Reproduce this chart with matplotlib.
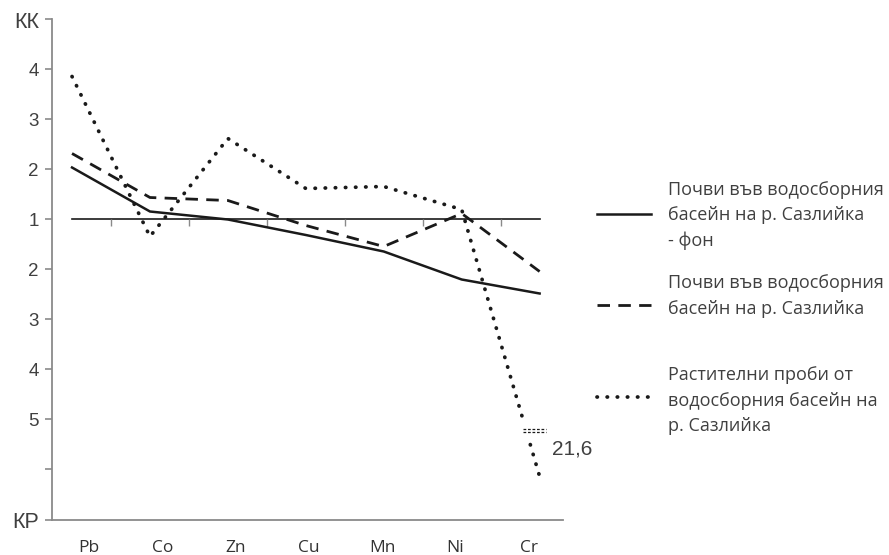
import matplotlib
matplotlib.use("Agg")
import matplotlib.pyplot as plt
from matplotlib.lines import Line2D
from matplotlib.patches import Rectangle

# Heavy metals along the x axis
elements = ["Pb", "Co", "Zn", "Cu", "Mn", "Ni", "Cr"]

# Positive numbers are concentration coefficients (КК),
# negative numbers are dispersion coefficients (КР)
soil_background = [2.04, 1.16, 1.0, -1.31, -1.64, -2.2, -2.48]
soil = [2.32, 1.44, 1.38, -1.12, -1.54, 1.12, -2.04]
plants = [3.86, -1.34, 2.62, 1.62, 1.66, 1.2, -21.6]

series_labels = [
    "Почви във водосборния\nбасейн на р. Сазлийка\n- фон",
    "Почви във водосборния\nбасейн на р. Сазлийка",
    "Растителни проби от\nводосборния басейн на\nр. Сазлийка",
]

y_tick_values = [4, 3, 2, 1, 0, -1, -2, -3, -4, -5, -6]
y_tick_labels = ["КК", "4", "3", "2", "1", "2", "3", "4", "5", "", "КР"]

# The КР scale is broken above this value and compressed beyond it
BREAK_AT = 5.2
BREAK_SCALE = 0.0573


def to_pos(v):
    """Map a signed coefficient onto the two-sided vertical scale."""
    if v >= 0:
        return v - 1
    k = -v
    if k <= BREAK_AT:
        return -(k - 1)
    return -(BREAK_AT - 1) - (k - BREAK_AT) * BREAK_SCALE


W, H = 889, 555
fig = plt.figure(figsize=(W / 100, H / 100), dpi=100)


def fx(px):
    return px / W


def fy(py):
    return 1 - py / H


ax = fig.add_axes([fx(52), fy(519.5), fx(563) - fx(52), fy(19.5) - fy(519.5)])

AXIS_GREY = "#8a8a8a"
TEXT_GREY = "#404040"
INK = "#1a1a1a"

x = list(range(len(elements)))

ax.set_xlim(-0.257, 6.3)
ax.set_ylim(-6, 4)

# reference line at coefficient 1 with category separators hanging below it
ax.plot([0, len(elements) - 1], [0, 0], color=INK, lw=1.2, zorder=2)
ax.vlines([i + 0.5 for i in range(len(elements) - 1)], -0.14, 0,
          color=AXIS_GREY, lw=1.0, zorder=2)

styles = [
    dict(linestyle="-", lw=1.8),
    dict(linestyle=(0, (4.5, 3.0)), lw=2.0),
    dict(linestyle=(0, (0.1, 2.6)), lw=2.7, dash_capstyle="round"),
]
all_series = [soil_background, soil, plants]

for vals, st in zip(all_series, styles):
    ax.plot(x, [to_pos(v) for v in vals], color=INK, zorder=3, **st)

# axis break on the plant series
bp = to_pos(-BREAK_AT)
ax.add_patch(Rectangle((5.65, bp - 0.23), 0.5, 0.4, facecolor="white",
                       edgecolor="none", zorder=4))
for dy in (0.02, -0.06):
    ax.plot([5.79, 6.08], [bp + dy, bp + dy], color=INK, lw=0.9,
            linestyle=(0, (2.2, 1.4)), zorder=5)

# value label for the off-scale point
cr_val = plants[-1]
ax.annotate(f"{abs(cr_val):.1f}".replace(".", ","),
            xy=(x[-1], to_pos(cr_val)), xytext=(9, 20),
            textcoords="offset points", ha="left", va="center",
            fontsize=15, color=TEXT_GREY, family="Liberation Sans")

# spines
for s in ("top", "right"):
    ax.spines[s].set_visible(False)
for s in ("left", "bottom"):
    ax.spines[s].set_color(AXIS_GREY)
    ax.spines[s].set_linewidth(1.3)

ax.set_yticks(y_tick_values)
ax.set_yticklabels(y_tick_labels, fontsize=13.5, color=TEXT_GREY,
                   family="Liberation Sans")
ax.tick_params(axis="y", direction="out", length=5, width=1.2,
               color=AXIS_GREY, pad=4.5)
for lab in ax.get_yticklabels():
    if lab.get_text() in ("КК", "КР"):
        lab.set_fontsize(15.5)

# category labels sit slightly to the right of the data columns
ax.set_xticks([0.22 + i * 0.94 for i in x])
ax.set_xticklabels(elements, fontsize=12.5, color="#333333", family="Open Sans")
ax.tick_params(axis="x", length=0, pad=15)

# legend
sample_y = [214, 305, 397]
first_line_y = [190, 283, 375]
pitch = 25.5
for lab, st, sy, ty in zip(series_labels, styles, sample_y, first_line_y):
    fig.add_artist(Line2D([fx(597), fx(651)], [fy(sy), fy(sy)],
                          transform=fig.transFigure, color=INK, **st))
    for j, line in enumerate(lab.split("\n")):
        fig.text(fx(668), fy(ty + j * pitch), line, ha="left", va="center",
                 fontsize=13, color=TEXT_GREY, family="Open Sans")

fig.savefig("out.png", dpi=100, facecolor="white")
